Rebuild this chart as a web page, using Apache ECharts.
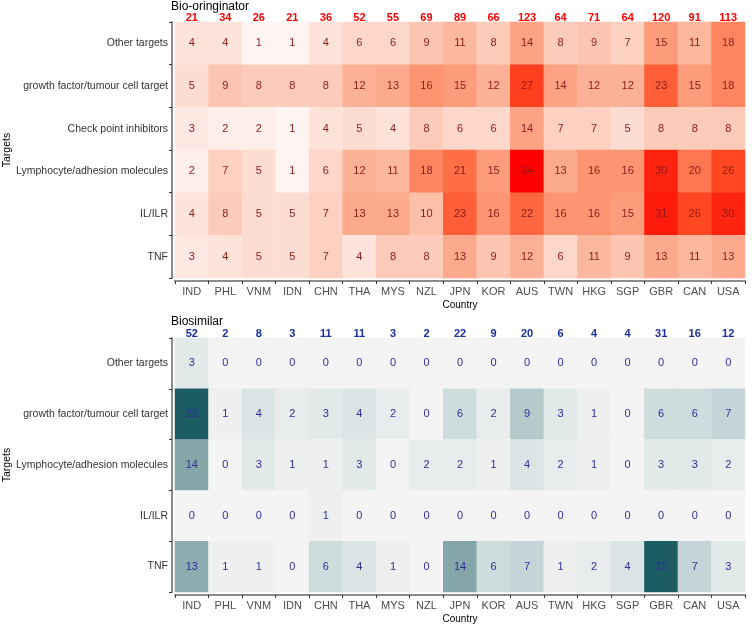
<!DOCTYPE html>
<html>
<head>
<meta charset="utf-8">
<script src="https://cdn.jsdelivr.net/npm/echarts@6/dist/echarts.min.js"></script>
<style>
  html, body { margin: 0; padding: 0; background: #fff; }
  #main { width: 752px; height: 625px; }
</style>
</head>
<body>
<div id="main"></div>
<script>
const countries = ["IND", "PHL", "VNM", "IDN", "CHN", "THA", "MYS", "NZL", "JPN", "KOR", "AUS", "TWN", "HKG", "SGP", "GBR", "CAN", "USA"];

// bio-originator, rows top to bottom
const origTargets = ["Other targets", "growth factor/tumour cell target", "Check point inhibitors", "Lymphocyte/adhesion molecules", "IL/ILR", "TNF"];
const origOther  = [4, 4, 1, 1, 4, 6, 6, 9, 11, 8, 14, 8, 9, 7, 15, 11, 18];
const origGrowth = [5, 9, 8, 8, 8, 12, 13, 16, 15, 12, 27, 14, 12, 12, 23, 15, 18];
const origCheck  = [3, 2, 2, 1, 4, 5, 4, 8, 6, 6, 14, 7, 7, 5, 8, 8, 8];
const origLympho = [2, 7, 5, 1, 6, 12, 11, 18, 21, 15, 34, 13, 16, 16, 30, 20, 26];
const origIL     = [4, 8, 5, 5, 7, 13, 13, 10, 23, 16, 22, 16, 16, 15, 31, 26, 30];
const origTNF    = [3, 4, 5, 5, 7, 4, 8, 8, 13, 9, 12, 6, 11, 9, 13, 11, 13];
const origTotals = [21, 34, 26, 21, 36, 52, 55, 69, 89, 66, 123, 64, 71, 64, 120, 91, 113];

// biosimilar, rows top to bottom
const simTargets = ["Other targets", "growth factor/tumour cell target", "Lymphocyte/adhesion molecules", "IL/ILR", "TNF"];
const simOther  = [3, 0, 0, 0, 0, 0, 0, 0, 0, 0, 0, 0, 0, 0, 0, 0, 0];
const simGrowth = [22, 1, 4, 2, 3, 4, 2, 0, 6, 2, 9, 3, 1, 0, 6, 6, 7];
const simLympho = [14, 0, 3, 1, 1, 3, 0, 2, 2, 1, 4, 2, 1, 0, 3, 3, 2];
const simIL     = [0, 0, 0, 0, 1, 0, 0, 0, 0, 0, 0, 0, 0, 0, 0, 0, 0];
const simTNF    = [13, 1, 1, 0, 6, 4, 1, 0, 14, 6, 7, 1, 2, 4, 22, 7, 3];
const simTotals = [52, 2, 8, 3, 11, 11, 3, 2, 22, 9, 20, 6, 4, 4, 31, 16, 12];

function cells(rows) {
  const out = [];
  rows.forEach((row, r) => row.forEach((v, c) => out.push([c, r, v])));
  return out;
}
const origData = cells([origOther, origGrowth, origCheck, origLympho, origIL, origTNF]);
const simData = cells([simOther, simGrowth, simLympho, simIL, simTNF]);

const font = "Liberation Sans, Arial, sans-serif";
const axisLine = { show: true, lineStyle: { color: "#8c8c8c", width: 2 } };
const axisTick = { show: true, length: 3, lineStyle: { color: "#333" } };

function bottomX(gi) {
  return {
    type: "category", gridIndex: gi, data: countries, position: "bottom", offset: 3,
    axisLine: axisLine, axisTick: axisTick, splitLine: { show: false },
    axisLabel: { color: "#4d4d4d", fontSize: 11, fontFamily: font, margin: 5, interval: 0 },
    name: "Country", nameLocation: "middle", nameGap: 19, nameMoveOverlap: false,
    nameTextStyle: { color: "#000", fontSize: 10, fontFamily: font }
  };
}
function topX(gi, totals, color) {
  return {
    type: "category", gridIndex: gi, data: totals, position: "top",
    axisLine: { show: false }, axisTick: { show: false }, splitLine: { show: false },
    axisLabel: { color: color, fontSize: 11, fontWeight: "bold", fontFamily: font, margin: -1, interval: 0 }
  };
}
function leftY(gi, targets) {
  return {
    type: "category", gridIndex: gi, data: targets, inverse: true, offset: 3,
    axisLine: axisLine, axisTick: axisTick, splitLine: { show: false },
    axisLabel: { color: "#333", fontSize: 10.5, fontFamily: font, margin: 4 },
    name: "Targets", nameLocation: "middle", nameGap: 159, nameRotate: 90, nameMoveOverlap: false,
    nameTextStyle: { color: "#000", fontSize: 10.5, fontFamily: font }
  };
}

const chart = echarts.init(document.getElementById("main"));
chart.setOption({
  animation: false,
  backgroundColor: "#fff",
  title: [
    { text: "Bio-oringinator", left: 171, top: 1, padding: 0, textStyle: { fontSize: 12, fontWeight: "normal", color: "#000", fontFamily: font } },
    { text: "Biosimilar", left: 171, top: 316, padding: 0, textStyle: { fontSize: 12, fontWeight: "normal", color: "#000", fontFamily: font } }
  ],
  grid: [
    { left: 175, top: 22, width: 570, height: 256, outerBoundsMode: "none", containLabel: false },
    { left: 175, top: 338, width: 570, height: 254, outerBoundsMode: "none", containLabel: false }
  ],
  xAxis: [bottomX(0), topX(0, origTotals, "#ff0000"), bottomX(1), topX(1, simTotals, "#1a2f9e")],
  yAxis: [leftY(0, origTargets), leftY(1, simTargets)],
  visualMap: [
    { show: false, seriesIndex: 0, min: 1, max: 34, inRange: { color: ["#fef5f2", "#fcc4af", "#fd8a64", "#ff4a22", "#ff0000"] } },
    { show: false, seriesIndex: 1, min: 0, max: 22, inRange: { color: ["#f4f4f4", "#d2dfe0", "#a3bcbe", "#6a9497", "#1b5d62"] } }
  ],
  series: [
    {
      type: "heatmap", xAxisIndex: 0, yAxisIndex: 0, data: origData,
      label: { show: true, color: "#8b1a1a", fontSize: 11, fontFamily: font }
    },
    {
      type: "heatmap", xAxisIndex: 2, yAxisIndex: 1, data: simData,
      label: { show: true, color: "#2e2e96", fontSize: 11, fontFamily: font }
    }
  ]
});
</script>
</body>
</html>
